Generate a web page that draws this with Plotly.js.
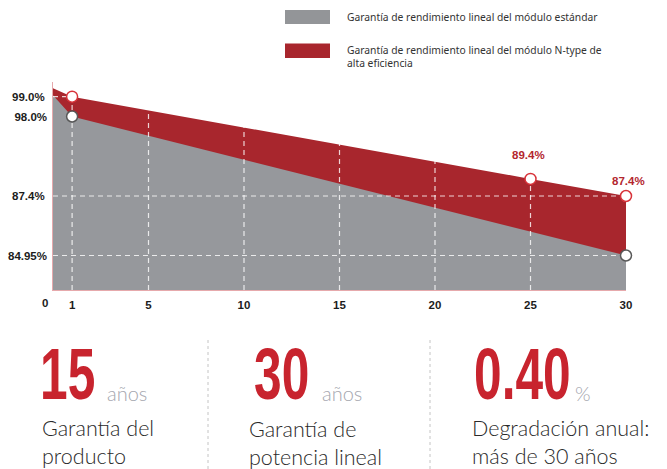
<!DOCTYPE html>
<html><head><meta charset="utf-8">
<script src="https://cdn.plot.ly/plotly-3.0.1.min.js"></script>
<style>html,body{margin:0;padding:0;background:#fff;}#chart{width:667px;height:469px;}</style>
</head><body><div id="chart"></div>
<script>
// ---------- data ----------
const yearsNT = [0, 1, 25, 30];
const perfNT = [100, 99.0, 89.4, 87.4];
const yearsStd = [0, 1, 30];
const perfStd = [100, 98.0, 84.95];
const xTicks = [1, 5, 10, 15, 20, 25, 30];
const ntTickVals = [99.0, 87.4];
const ntTickText = ['99.0%', '87.4%'];
const stdTickVals = [98.0, 84.95];
const stdTickText = ['98.0%', '84.95%'];
const ntLabelYears = [25, 30];
const ntLabelVals = [89.4, 87.4];
const ntLabelText = ['89.4%', '87.4%'];
const legendStd = 'Garantía de rendimiento lineal del módulo estándar';
const legendNT = 'Garantía de rendimiento lineal del módulo N-type de<br>alta eficiencia';
const statNums = ['15', '30', '0.40'];
const statUnits = ['años', 'años', '%'];
const statLines = ['Garantía del<br>producto', 'Garantía de<br>potencia lineal', 'Degradación anual:<br>más de 30 años'];

// ---------- geometry / style ----------
const W = 667, H = 469;
const PL = 53, PR = 626, PT = 82, PB = 290;
const px = v => v / W, py = v => 1 - v / H;
const RED_RANGE = [76.42, 100.717];
const GREY_RANGE = [81.71, 101.239];
const RED = '#a8262d', GREY = '#96989c', BIGRED = '#c8242e';
const DASH = 'rgba(255,255,255,0.8)';
const tickFont = {family: 'Liberation Sans, Arial, sans-serif', size: 11.5, weight: 'bold', color: '#1c1c1c'};
const COND = 0.69;

const vx = [], vy = [];
xTicks.filter(t => t < 30).forEach(t => { vx.push(t, t, null); vy.push(GREY_RANGE[0], GREY_RANGE[1], null); });

const mNTx = yearsNT.filter(y => y > 0), mNTy = perfNT.filter((v, i) => yearsNT[i] > 0);
const mSx = yearsStd.filter(y => y > 0), mSy = perfStd.filter((v, i) => yearsStd[i] > 0);

const data = [
  {x: yearsNT, y: perfNT, yaxis: 'y', mode: 'lines', fill: 'tozeroy', fillcolor: RED, line: {width: 0, color: RED}, hoverinfo: 'skip'},
  {x: yearsStd, y: perfStd, yaxis: 'y2', mode: 'lines', fill: 'tozeroy', fillcolor: GREY, line: {width: 0, color: GREY}, hoverinfo: 'skip'},
  {x: vx, y: vy, yaxis: 'y2', mode: 'lines', line: {color: DASH, width: 1.2, dash: '5px,4px'}, hoverinfo: 'skip'},
  {x: [0, yearsNT[1], null, 0, yearsNT[3]], y: [perfNT[1], perfNT[1], null, perfNT[3], perfNT[3]], yaxis: 'y3', mode: 'lines', line: {color: DASH, width: 1.2, dash: '5px,4px'}, hoverinfo: 'skip'},
  {x: mNTx, y: mNTy, yaxis: 'y3', mode: 'markers', cliponaxis: false, marker: {size: 11, color: '#fff', line: {color: '#d8333a', width: 1.5}}},
  {x: [0, yearsStd[2]], y: [perfStd[2], perfStd[2]], yaxis: 'y4', mode: 'lines', line: {color: DASH, width: 1.2, dash: '5px,4px'}, hoverinfo: 'skip'},
  {x: mSx, y: mSy, yaxis: 'y4', mode: 'markers', cliponaxis: false, marker: {size: 11, color: '#fff', line: {color: '#585858', width: 1.5}}}
];

const annotations = [];
// x-axis "0"
annotations.push({x: 0, xref: 'x', y: py(303), yref: 'paper', text: '0', showarrow: false, xshift: -8.5, font: tickFont, xanchor: 'center', yanchor: 'middle'});
// value labels
const lshift = [[-2, 23.5], [2, 15]];
ntLabelYears.forEach((yr, i) => annotations.push({x: yr, xref: 'x', y: ntLabelVals[i], yref: 'y', text: ntLabelText[i], showarrow: false,
  xshift: lshift[i][0], yshift: lshift[i][1], xanchor: 'center', yanchor: 'middle',
  font: {family: 'Liberation Sans, Arial, sans-serif', size: 11.5, weight: 'bold', color: '#b3262e'}}));
// legend text
const legFont = {family: 'Noto Sans, sans-serif', size: 10.3, color: '#333'};
annotations.push({x: px(345), y: py(16.8), xref: 'paper', yref: 'paper', text: legendStd, showarrow: false, xanchor: 'left', yanchor: 'middle', font: legFont});
annotations.push({x: px(345), y: py(56.5), xref: 'paper', yref: 'paper', text: legendNT, showarrow: false, xanchor: 'left', yanchor: 'middle', align: 'left', font: legFont});
// stats
const numX = [38, 252, 472], unitX = [105, 320, 573], lineX = [40, 247, 470];
const linesY = [441.5, 443, 441.5];
statNums.forEach((n, i) => {
  annotations.push({x: px(numX[i]), y: py(374), xref: 'paper', yref: 'paper', text: n, showarrow: false, xanchor: 'left', yanchor: 'middle',
    font: {family: 'Liberation Sans, Arial, sans-serif', size: 72, weight: 'bold', color: BIGRED}});
  annotations.push({x: px(unitX[i]), y: py(393), xref: 'paper', yref: 'paper', text: statUnits[i], showarrow: false, xanchor: 'left', yanchor: 'middle',
    font: {family: 'Lato, sans-serif', size: 20, weight: 300, color: '#a4a6ae'}});
  annotations.push({x: px(lineX[i]), y: py(linesY[i]), xref: 'paper', yref: 'paper', text: statLines[i], showarrow: false, xanchor: 'left', yanchor: 'middle', align: 'left',
    font: {family: 'Lato, sans-serif', size: 21.5, weight: 300, color: '#2a2a2a'}});
});

const shapes = [
  {type: 'rect', xref: 'paper', yref: 'paper', x0: px(285), x1: px(330), y0: py(24), y1: py(10), fillcolor: '#939598', line: {width: 0}},
  {type: 'rect', xref: 'paper', yref: 'paper', x0: px(285), x1: px(330), y0: py(58), y1: py(43.5), fillcolor: RED, line: {width: 0}},
  {type: 'line', xref: 'paper', yref: 'paper', x0: px(208), x1: px(208), y0: py(340), y1: 0, line: {color: '#c4c4c4', width: 1, dash: 'dot'}},
  {type: 'line', xref: 'paper', yref: 'paper', x0: px(430), x1: px(430), y0: py(340), y1: 0, line: {color: '#c4c4c4', width: 1, dash: 'dot'}}
];

const hiddenAx = {overlaying: 'y', anchor: 'x', visible: false, showgrid: false, zeroline: false, fixedrange: true};
const layout = {
  width: W, height: H, margin: {l: 0, r: 0, t: 0, b: 0},
  paper_bgcolor: '#fff', plot_bgcolor: 'rgba(0,0,0,0)', showlegend: false,
  xaxis: {domain: [px(PL), px(PR)], range: [0, 30], tickvals: xTicks, ticktext: xTicks.map(String), showgrid: false, zeroline: false,
    showline: true, linecolor: '#e6a9ac', linewidth: 1, ticks: '', tickfont: tickFont, ticklabelstandoff: 4, fixedrange: true},
  yaxis: {domain: [py(PB), py(PT)], range: RED_RANGE, tickvals: ntTickVals, ticktext: ntTickText, showgrid: false, zeroline: false,
    showline: true, linecolor: '#e6a9ac', linewidth: 1, ticks: '', tickfont: tickFont, ticklabelstandoff: 5, fixedrange: true},
  yaxis2: {overlaying: 'y', side: 'left', anchor: 'x', range: GREY_RANGE, tickvals: stdTickVals, ticktext: stdTickText, showgrid: false,
    zeroline: false, showline: false, ticks: '', tickfont: tickFont, ticklabelstandoff: 5, fixedrange: true},
  yaxis3: Object.assign({range: RED_RANGE}, hiddenAx),
  yaxis4: Object.assign({range: GREY_RANGE}, hiddenAx),
  annotations: annotations, shapes: shapes
};

Plotly.newPlot('chart', data, layout, {displayModeBar: false, staticPlot: true}).then(gd => {
  gd.querySelectorAll('.annotation-text').forEach(t => {
    if (statNums.includes(t.textContent)) {
      const bb = t.getBBox();
      t.setAttribute('transform', 'translate(' + (bb.x * (1 - COND)) + ',0) scale(' + COND + ',1)');
    }
  });
});
</script>
</body></html>
